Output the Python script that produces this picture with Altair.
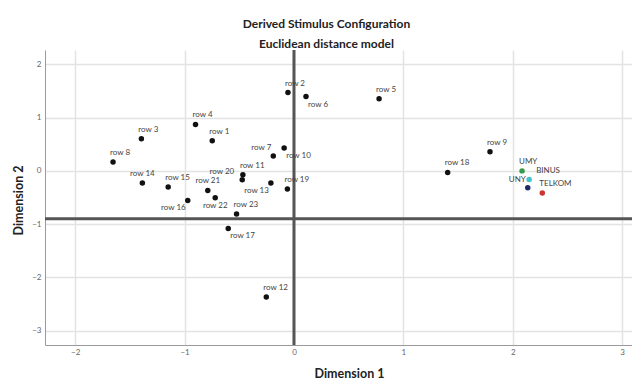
import altair as alt
import pandas as pd

# ---- data ----
names = ["row 1", "row 2", "row 3", "row 4", "row 5", "row 6", "row 7", "row 8",
         "row 9", "row 10", "row 11", "row 12", "row 13", "row 14", "row 15", "row 16",
         "row 17", "row 18", "row 19", "row 20", "row 21", "row 22", "row 23",
         "UMY", "BINUS", "UNY", "TELKOM"]
dim1 = [-0.747, -0.055, -1.395, -0.900, 0.778, 0.110, -0.189, -1.654,
        1.792, -0.090, -0.467, -0.253, -0.211, -1.386, -1.150, -0.971,
        -0.601, 1.405, -0.060, -0.473, -0.788, -0.720, -0.525,
        2.085, 2.150, 2.137, 2.270]
dim2 = [0.565, 1.471, 0.602, 0.871, 1.353, 1.396, 0.278, 0.165,
        0.358, 0.428, -0.073, -2.368, -0.229, -0.229, -0.304, -0.555,
        -1.081, -0.030, -0.341, -0.167, -0.368, -0.505, -0.811,
        0.000, -0.160, -0.317, -0.416]
# label placement around each point
label_pos = ["ur", "ur", "ur", "ur", "ur", "dr", "ul", "ur",
             "ur", "dr", "ur", "ur", "dl", "uc", "ur", "dl",
             "dr", "ur", "ur", "l", "uc", "dc", "ur",
             "ur", "r", "ul", "ur"]
ref_dim1 = [0.0]
ref_dim2 = [-0.9]
x_ticks = [-2, -1, 0, 1, 2, 3]
y_ticks = [-3, -2, -1, 0, 1, 2]

group_keys = ["row", "UMY", "BINUS", "UNY", "TELKOM"]
group_colors = ["#111111", "#3a9a4c", "#45c3cc", "#1d2b6b", "#cc3333"]

df = pd.DataFrame({
    "name": names,
    "dim1": dim1,
    "dim2": dim2,
    "pos": label_pos,
})
df["key"] = [n if not n.startswith("row") else "row" for n in names]

FONT = "Lato"

x_scale = alt.Scale(domain=[-2.276, 3.09], nice=False, zero=False)
y_scale = alt.Scale(domain=[-3.27, 2.27], nice=False, zero=False)

x_axis = alt.Axis(values=x_ticks, format="d", title="Dimension 1", grid=True, ticks=False,
                  gridColor="#e3e3e3", gridWidth=1.5,
                  domainColor="#9a9a9a", domainWidth=1,
                  labelFontSize=8, labelColor="#666666", labelPadding=3, labelFont=FONT,
                  titleFont=FONT, titleFontSize=12.5, titleFontWeight="bold",
                  titleColor="#222222", titleX=304, titleY=28,
                  titleBaseline="middle", titleAlign="center")
y_axis = alt.Axis(values=y_ticks, format="d", title="Dimension 2", grid=True, ticks=False,
                  gridColor="#e3e3e3", gridWidth=1.5,
                  domainColor="#9a9a9a", domainWidth=1,
                  labelFontSize=8, labelColor="#666666", labelPadding=4, labelFont=FONT,
                  titleFont=FONT, titleFontSize=12.5, titleFontWeight="bold",
                  titleColor="#222222", titleX=-27, titleY=150,
                  titleBaseline="middle", titleAlign="center", titleAngle=270)

base = alt.Chart(df)

points = base.mark_circle(size=30, opacity=1).encode(
    x=alt.X("dim1:Q", scale=x_scale, axis=x_axis),
    y=alt.Y("dim2:Q", scale=y_scale, axis=y_axis),
    color=alt.Color("key:N", scale=alt.Scale(domain=group_keys, range=group_colors),
                    legend=None),
)

vline = alt.Chart(pd.DataFrame({"v": ref_dim1})).mark_rule(
    color="#555555", strokeWidth=3).encode(x=alt.X("v:Q", scale=x_scale))
hline = alt.Chart(pd.DataFrame({"v": ref_dim2})).mark_rule(
    color="#555555", strokeWidth=3).encode(y=alt.Y("v:Q", scale=y_scale))

placements = {
    "ur": dict(align="left", dx=-3, dy=-9),
    "ul": dict(align="right", dx=-2, dy=-8),
    "uc": dict(align="center", dx=0, dy=-9),
    "dr": dict(align="left", dx=2, dy=8),
    "dl": dict(align="right", dx=-2, dy=8),
    "dc": dict(align="center", dx=0, dy=8),
    "r": dict(align="left", dx=7, dy=-8),
    "l": dict(align="right", dx=-8, dy=-8),
}

text_layers = []
for p, opts in placements.items():
    text_layers.append(
        base.transform_filter(alt.datum.pos == p).mark_text(
            baseline="middle", fontSize=8, font=FONT, **opts
        ).encode(
            x=alt.X("dim1:Q", scale=x_scale),
            y=alt.Y("dim2:Q", scale=y_scale),
            text="name:N",
            color=alt.value("#444444"),
        )
    )

chart = alt.layer(vline, hline, points, *text_layers).properties(
    width=587,
    height=295,
    autosize=alt.AutoSizeParams(type="none"),
    padding={"left": 37, "top": 42, "right": 0, "bottom": 36},
    title=alt.TitleParams(
        text="Derived Stimulus Configuration",
        subtitle="Euclidean distance model",
        font=FONT, subtitleFont=FONT,
        fontSize=12, subtitleFontSize=12,
        fontWeight="bold", subtitleFontWeight="bold",
        color="#222222", subtitleColor="#222222",
        anchor="middle", dx=-12, offset=-2, subtitlePadding=8,
    ),
).configure_view(stroke=None)

chart.save("out.html", embed_options={"renderer": "svg", "actions": False})
